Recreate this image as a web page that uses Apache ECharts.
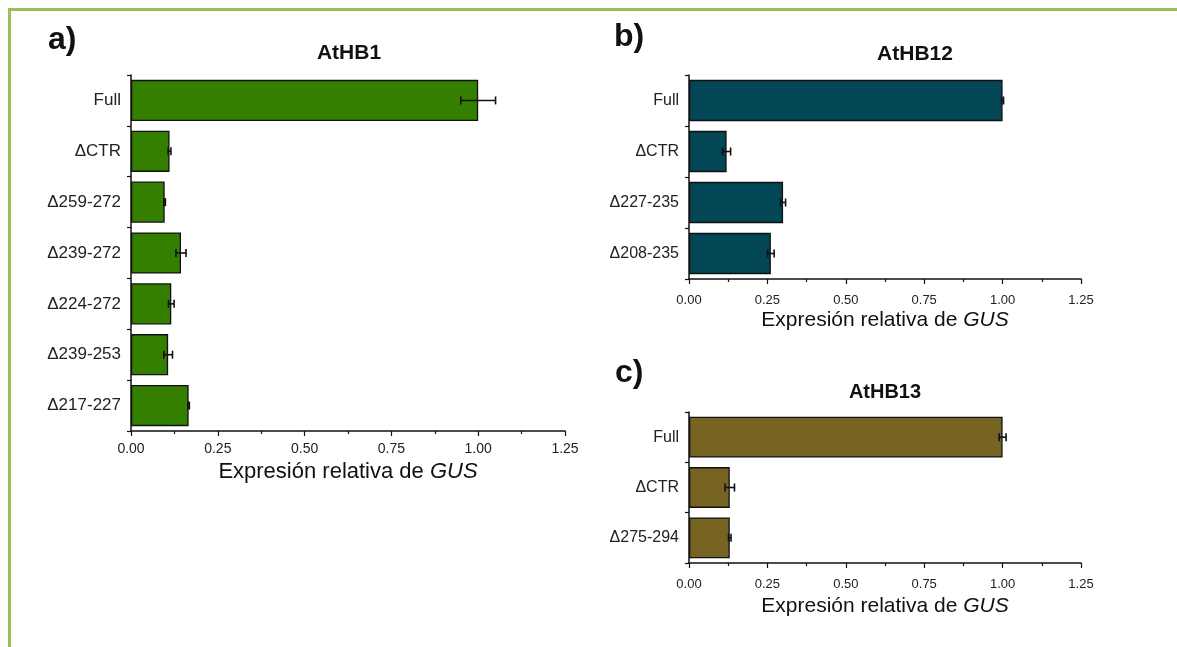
<!DOCTYPE html>
<html>
<head>
<meta charset="utf-8">
<script src="https://cdn.jsdelivr.net/npm/echarts@6/dist/echarts.min.js"></script>
<style>
  html, body { margin: 0; padding: 0; background: #ffffff; }
  #chart { width: 1177px; height: 647px; }
</style>
</head>
<body>
<div id="chart"></div>
<script>
// AtHB1 constructs
const catsA = ['Full', 'ΔCTR', 'Δ259-272', 'Δ239-272', 'Δ224-272', 'Δ239-253', 'Δ217-227'];
const valsA = [1.0, 0.111, 0.097, 0.144, 0.116, 0.107, 0.166];
const errA  = [0.05, 0.004, 0.002, 0.0145, 0.008, 0.0125, 0.002];

// AtHB12 constructs
const catsB = ['Full', 'ΔCTR', 'Δ227-235', 'Δ208-235'];
const valsB = [1.0, 0.12, 0.30, 0.261];
const errB  = [0.003, 0.0127, 0.008, 0.0105];

// AtHB13 constructs
const catsC = ['Full', 'ΔCTR', 'Δ275-294'];
const valsC = [1.0, 0.13, 0.13];
const errC  = [0.011, 0.015, 0.004];

// shared value axis
const xMin = 0, xMax = 1.25, xStep = 0.25;
const axisTitle = 'Expresión relativa de ';
const axisTitleItalic = 'GUS';

const FONT = '"Liberation Sans", Arial, Helvetica, sans-serif';
const INK = '#111111';

const panels = [
  { cats: catsA, vals: valsA, errs: errA, color: '#347e00',
    grid: { left: 131, top: 75, width: 434, height: 356 },
    catFont: 17, tickFont: 14, nameFont: 22, tickMargin: 11, nameGap: 26 },
  { cats: catsB, vals: valsB, errs: errB, color: '#034655',
    grid: { left: 689, top: 75, width: 392, height: 204 },
    catFont: 16, tickFont: 13, nameFont: 21, tickMargin: 15, nameGap: 31 },
  { cats: catsC, vals: valsC, errs: errC, color: '#786422',
    grid: { left: 689, top: 412, width: 392, height: 151 },
    catFont: 16, tickFont: 13, nameFont: 21, tickMargin: 15, nameGap: 33 }
];

const chart = echarts.init(document.getElementById('chart'), null, { renderer: 'canvas' });

const grid = [], xAxis = [], yAxis = [], series = [];

panels.forEach((p, i) => {
  grid.push(Object.assign({ containLabel: false }, p.grid));
  xAxis.push({
    type: 'value', gridIndex: i, min: xMin, max: xMax, interval: xStep,
    name: '{n|' + axisTitle + '}{it|' + axisTitleItalic + '}',
    nameLocation: 'middle', nameGap: p.nameGap,
    nameTextStyle: {
      rich: {
        n:  { fontFamily: FONT, fontSize: p.nameFont, color: INK },
        it: { fontFamily: FONT, fontSize: p.nameFont, color: INK, fontStyle: 'italic' }
      }
    },
    axisLine: { show: true, lineStyle: { color: INK, width: 1.5 } },
    axisTick: { show: true, inside: false, length: 5, lineStyle: { color: INK, width: 1.2 } },
    minorTick: { show: true, splitNumber: 2, length: 3, lineStyle: { color: INK, width: 1.2 } },
    splitLine: { show: false },
    axisLabel: {
      margin: p.tickMargin, fontFamily: FONT, fontSize: p.tickFont, color: '#222',
      formatter: v => v.toFixed(2)
    }
  });
  yAxis.push({
    type: 'category', gridIndex: i, data: p.cats, inverse: true,
    axisLine: { show: true, lineStyle: { color: INK, width: 1.5 } },
    axisTick: { show: true, alignWithLabel: false, length: 4, lineStyle: { color: INK, width: 1.2 } },
    axisLabel: { margin: 10, fontFamily: FONT, fontSize: p.catFont, color: '#222' },
    splitLine: { show: false }
  });
  series.push({
    type: 'bar', xAxisIndex: i, yAxisIndex: i,
    data: p.vals,
    barCategoryGap: '19%',
    itemStyle: { color: p.color, borderColor: INK, borderWidth: 1.3 },
    silent: true, animation: false
  });
  series.push({
    type: 'custom', xAxisIndex: i, yAxisIndex: i,
    data: p.vals.map((v, k) => [v, k, p.errs[k]]),
    encode: { x: 0, y: 1 },
    renderItem: (params, api) => {
      const v = api.value(0), k = api.value(1), e = api.value(2);
      const lo = api.coord([v - e, k]);
      const hi = api.coord([v + e, k]);
      const cap = 4;
      const st = { stroke: INK, lineWidth: 1.6, fill: null };
      return {
        type: 'group',
        children: [
          { type: 'line', shape: { x1: lo[0], y1: lo[1], x2: hi[0], y2: hi[1] }, style: st },
          { type: 'line', shape: { x1: lo[0], y1: lo[1] - cap, x2: lo[0], y2: lo[1] + cap }, style: st },
          { type: 'line', shape: { x1: hi[0], y1: hi[1] - cap, x2: hi[0], y2: hi[1] + cap }, style: st }
        ]
      };
    },
    z: 5, silent: true, animation: false
  });
});

// panel captions, titles and the page frame
const titles = [
  { text: 'AtHB1',  x: 349, y: 53, size: 21 },
  { text: 'AtHB12', x: 915, y: 54, size: 21 },
  { text: 'AtHB13', x: 885, y: 392, size: 20 }
];
const letters = [
  { text: 'a)', x: 48,  y: 40 },
  { text: 'b)', x: 614, y: 37 },
  { text: 'c)', x: 615, y: 373 }
];

const graphic = [
  { type: 'rect', shape: { x: 8, y: 8, width: 1169, height: 3 }, style: { fill: '#9bbe57' }, silent: true },
  { type: 'rect', shape: { x: 8, y: 8, width: 3, height: 639 }, style: { fill: '#9bbe57' }, silent: true }
];
titles.forEach(t => graphic.push({
  type: 'text', x: t.x, y: t.y, silent: true,
  style: { text: t.text, fontFamily: FONT, fontSize: t.size, fontWeight: 'bold', fill: INK,
           align: 'center', verticalAlign: 'middle' }
}));
letters.forEach(t => graphic.push({
  type: 'text', x: t.x, y: t.y, silent: true,
  style: { text: t.text, fontFamily: FONT, fontSize: 32, fontWeight: 'bold', fill: INK,
           align: 'left', verticalAlign: 'middle' }
}));

chart.setOption({
  backgroundColor: '#ffffff',
  animation: false,
  grid, xAxis, yAxis, series, graphic
});
</script>
</body>
</html>
